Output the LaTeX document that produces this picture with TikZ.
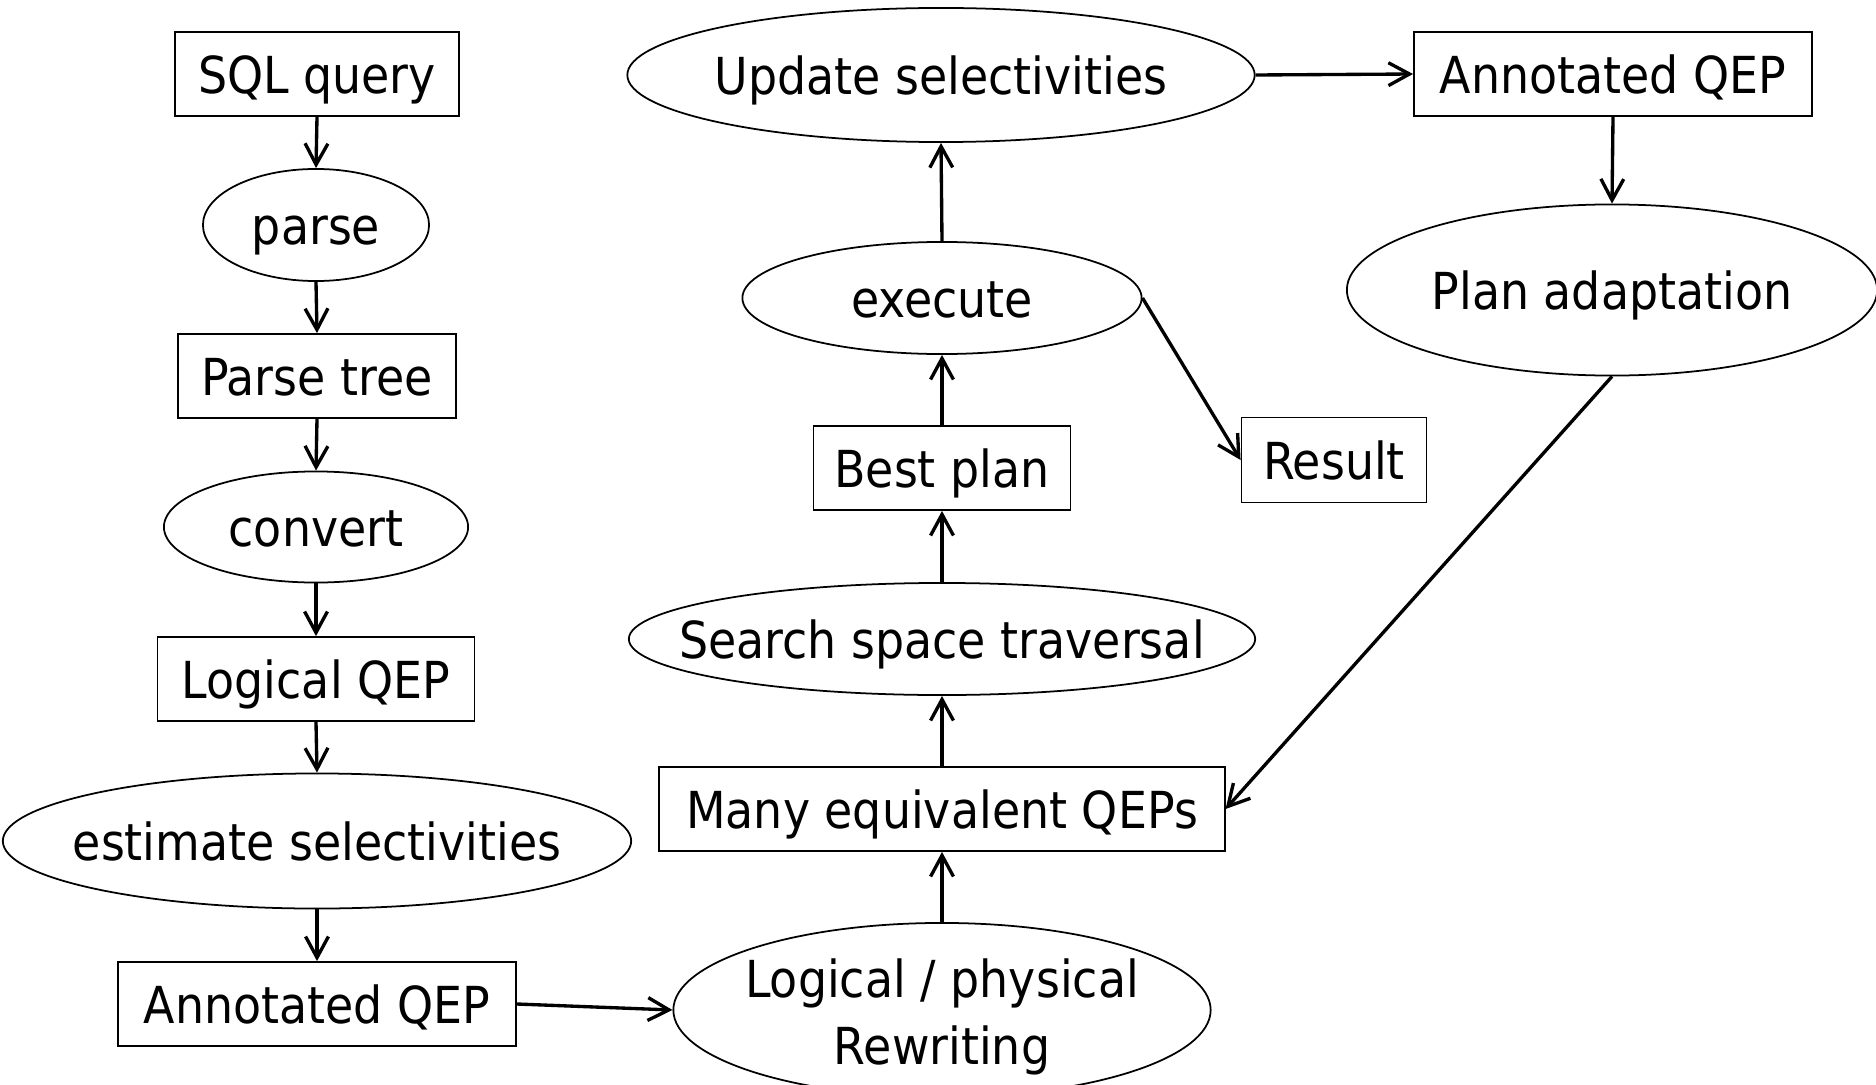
\documentclass[tikz,border=0pt]{standalone}
\usepackage{fontspec}
\setmainfont{DejaVu Sans}[FakeStretch=0.9]
\usetikzlibrary{shapes.geometric,arrows.meta}
\begin{document}
\begin{tikzpicture}[x=0.01cm,y=-0.01cm,
  every node/.style={font=\fontsize{14.5pt}{19pt}\selectfont},
  box/.style={draw, line width=0.5pt, rectangle, inner sep=0pt, text height=1.1em, text depth=0pt},
  elli/.style={draw, line width=0.5pt, ellipse, inner sep=0pt},
  lbl/.style={inner sep=0pt, text height=1.1em, text depth=0pt},
  lbltwo/.style={inner sep=0pt, align=center},
  arr/.style={line width=0.95pt, -{Straight Barb[length=6pt,width=6.5pt]}}]
\useasboundingbox (0,0) rectangle (1876,1085);

% left column
\node[box, minimum width=2.84cm, minimum height=0.84cm] (sql) at (317,74) {SQL query};
\node[elli, minimum width=2.26cm, minimum height=1.12cm] (parse) at (316,225) {};
\node[lbl] (parset) at (parse) {parse};
\node[box, minimum width=2.78cm, minimum height=0.84cm] (ptree) at (317,376) {Parse tree};
\node[elli, minimum width=3.04cm, minimum height=1.11cm] (convert) at (316,527) {};
\node[lbl] (convertt) at (convert) {convert};
\node[box, minimum width=3.17cm, minimum height=0.84cm] (lqep) at (316,679) {Logical QEP};
\node[elli, minimum width=6.28cm, minimum height=1.35cm] (est) at (317,841) {};
\node[lbl] (estt) at (est) {estimate selectivities};
\node[box, minimum width=3.98cm, minimum height=0.84cm] (ann1) at (317,1004) {Annotated QEP};

% middle column
\node[elli, minimum width=5.37cm, minimum height=1.74cm] (rew) at (942,1010) {};
\node[lbltwo] (rewt) at (942,1017) {Logical / physical\\Rewriting};
\node[box, minimum width=5.65cm, minimum height=0.84cm] (many) at (942,809) {Many equivalent QEPs};
\node[elli, minimum width=6.26cm, minimum height=1.12cm] (search) at (942,639) {};
\node[lbl] (searcht) at (search) {Search space traversal};
\node[box, minimum width=2.57cm, minimum height=0.84cm] (best) at (942,468) {Best plan};
\node[elli, minimum width=3.99cm, minimum height=1.12cm] (exec) at (942,298) {};
\node[lbl] (exect) at (exec) {execute};
\node[elli, minimum width=6.27cm, minimum height=1.34cm] (upd) at (941,75) {};
\node[lbl] (updt) at (upd) {Update selectivities};

% right column
\node[box, minimum width=3.98cm, minimum height=0.84cm] (ann2) at (1613,74) {Annotated QEP};
\node[elli, minimum width=5.30cm, minimum height=1.71cm] (plan) at (1612,290) {};
\node[lbl] (plant) at (plan) {Plan adaptation};
\node[box, minimum width=1.85cm, minimum height=0.85cm] (res) at (1334,460) {Result};

% connectors
\draw[arr] (sql.south) -- (parse.north);
\draw[arr] (parse.south) -- (ptree.north);
\draw[arr] (ptree.south) -- (convert.north);
\draw[arr] (convert.south) -- (lqep.north);
\draw[arr] (lqep.south) -- (est.north);
\draw[arr] (est.south) -- (ann1.north);
\draw[arr] (ann1.east) -- (rew.west);
\draw[arr] (rew.north) -- (many.south);
\draw[arr] (many.north) -- (search.south);
\draw[arr] (search.north) -- (best.south);
\draw[arr] (best.north) -- (exec.south);
\draw[arr] (exec.north) -- (upd.south);
\draw[arr] (exec.east) -- (res.west);
\draw[arr] (upd.east) -- (ann2.west);
\draw[arr] (ann2.south) -- (plan.north);
\draw[arr] (plan.south) -- (many.east);
\end{tikzpicture}
\end{document}
